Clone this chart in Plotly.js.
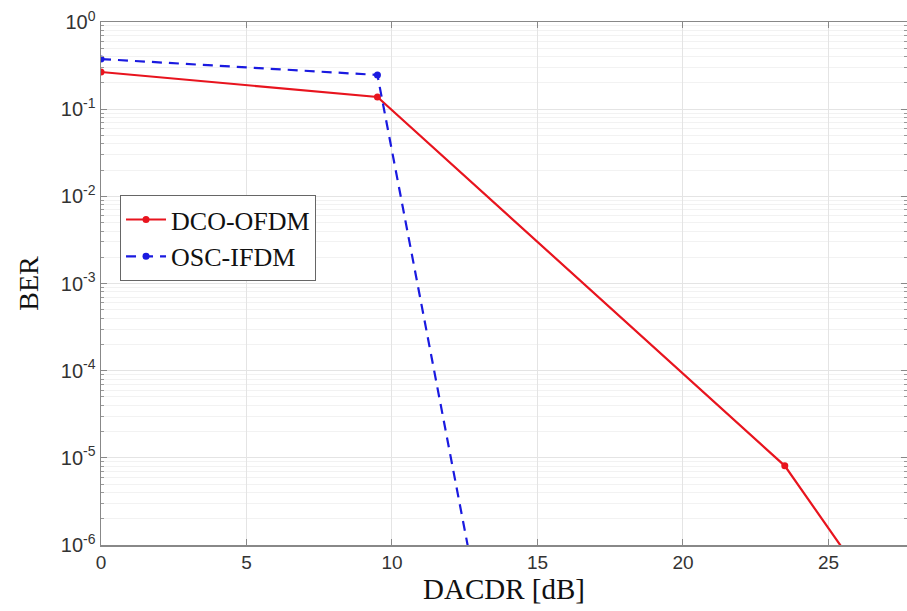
<!DOCTYPE html>
<html>
<head>
<meta charset="utf-8">
<script src="https://cdn.plot.ly/plotly-3.0.1.min.js"></script>
<style>html,body{margin:0;padding:0;background:#fff;}#chart{width:907px;height:611px;}</style>
</head>
<body>
<div id="chart"></div>
<script>
// Data
const dcoX = [0, 9.5, 23.5, 27.5];
const dcoY = [0.267, 0.138, 8.1e-6, 1.0e-7];
const oscX = [0, 9.5, 13.5];
const oscY = [0.376, 0.247, 2.7e-8];
const yTickVals = [1e-6, 1e-5, 1e-4, 1e-3, 1e-2, 1e-1, 1];
const yTickText = ['10<sup>-6</sup>', '10<sup>-5</sup>', '10<sup>-4</sup>', '10<sup>-3</sup>', '10<sup>-2</sup>', '10<sup>-1</sup>', '10<sup>0</sup>'];
const xTickVals = [0, 5, 10, 15, 20, 25];

const traces = [
  {x: dcoX, y: dcoY, name: 'DCO-OFDM', mode: 'lines+markers',
   line: {color: '#e8141e', width: 2.2}, marker: {color: '#e8141e', size: 7, symbol: 'circle'}},
  {x: oscX, y: oscY, name: 'OSC-IFDM', mode: 'lines+markers',
   line: {color: '#1a1ae0', width: 2.2, dash: '10px,7px'}, marker: {color: '#1a1ae0', size: 7, symbol: 'circle'}}
];

const serif = 'Liberation Serif, Times New Roman, serif';
const sans = 'Liberation Sans, Arial, sans-serif';

const layout = {
  width: 907, height: 611,
  margin: {l: 101, r: 0, t: 22, b: 66},
  paper_bgcolor: '#fff', plot_bgcolor: '#fff',
  showlegend: true,
  legend: {x: 0.0236, y: 0.669, xanchor: 'left', yanchor: 'top',
    bgcolor: '#fff', bordercolor: '#666', borderwidth: 1,
    itemwidth: 40,
    font: {family: serif, size: 26, color: '#111'},
    tracegroupgap: 0},
  xaxis: {
    range: [0, 27.7], tickvals: xTickVals, ticktext: xTickVals.map(String),
    showgrid: true, gridcolor: '#e4e4e4', gridwidth: 1,
    zeroline: false, showline: true, linecolor: '#888', linewidth: 1.5, mirror: 'ticks',
    ticks: 'inside', ticklen: 6, tickcolor: '#888',
    tickfont: {family: sans, size: 19, color: '#333'},
    title: {text: 'DACDR [dB]', standoff: 0,
      font: {family: serif, size: 29, color: '#111'}}
  },
  yaxis: {
    type: 'log', range: [-6, 0], tickvals: yTickVals, ticktext: yTickText,
    showgrid: true, gridcolor: '#e4e4e4', gridwidth: 1,
    zeroline: false, showline: true, linecolor: '#888', linewidth: 1.5, mirror: 'ticks',
    ticks: 'inside', ticklen: 6, tickcolor: '#888',
    minor: {dtick: 'D1', showgrid: true, gridcolor: '#f2f2f2', ticks: 'inside', ticklen: 3, tickcolor: '#999'},
    tickfont: {family: sans, size: 20, color: '#333'},
    title: {text: 'BER', standoff: 14,
      font: {family: serif, size: 28, color: '#111'}}
  }
};

Plotly.newPlot('chart', traces, layout, {displayModeBar: false, staticPlot: true});
</script>
</body>
</html>
